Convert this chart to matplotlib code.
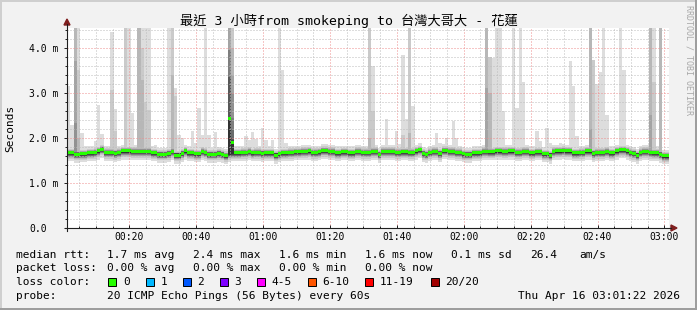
import numpy as np
import matplotlib
matplotlib.use("Agg")
import matplotlib.pyplot as plt
from matplotlib.patches import Polygon, Rectangle
from matplotlib.lines import Line2D
from matplotlib.ticker import FixedLocator, MultipleLocator

# ---------------- data ----------------
title = "最近 3 小時from smokeping to 台灣大哥大 - 花蓮"
start_minute = 1.37          # graph starts 00:01:22, one step = 1 minute

median_ms = [
    1.67, 1.67, 1.64, 1.64, 1.65, 1.65, 1.67, 1.67, 1.68, 1.71,
    1.75, 1.68, 1.68, 1.68, 1.66, 1.68, 1.71, 1.71, 1.71, 1.70,
    1.70, 1.70, 1.70, 1.70, 1.70, 1.67, 1.67, 1.64, 1.64, 1.64,
    1.66, 1.70, 1.62, 1.62, 1.66, 1.71, 1.67, 1.67, 1.65, 1.65,
    1.70, 1.68, 1.64, 1.64, 1.64, 1.66, 1.64, 1.61, 2.42, 1.90,
    1.67, 1.67, 1.68, 1.68, 1.70, 1.67, 1.68, 1.68, 1.66, 1.67,
    1.67, 1.67, 1.62, 1.65, 1.67, 1.67, 1.68, 1.68, 1.69, 1.69,
    1.70, 1.70, 1.71, 1.68, 1.68, 1.69, 1.72, 1.72, 1.70, 1.70,
    1.67, 1.67, 1.69, 1.69, 1.67, 1.67, 1.70, 1.70, 1.68, 1.68,
    1.68, 1.70, 1.70, 1.64, 1.70, 1.70, 1.70, 1.70, 1.68, 1.68,
    1.69, 1.69, 1.68, 1.68, 1.71, 1.74, 1.66, 1.64, 1.68, 1.70,
    1.70, 1.66, 1.72, 1.72, 1.70, 1.70, 1.68, 1.68, 1.65, 1.64,
    1.64, 1.67, 1.67, 1.67, 1.70, 1.70, 1.69, 1.69, 1.71, 1.71,
    1.70, 1.70, 1.71, 1.71, 1.68, 1.68, 1.70, 1.70, 1.67, 1.67,
    1.69, 1.69, 1.65, 1.65, 1.62, 1.70, 1.71, 1.71, 1.72, 1.71,
    1.71, 1.67, 1.67, 1.68, 1.68, 1.71, 1.71, 1.66, 1.68, 1.68,
    1.68, 1.70, 1.67, 1.67, 1.71, 1.74, 1.74, 1.71, 1.68, 1.66,
    1.62, 1.68, 1.70, 1.70, 1.68, 1.67, 1.67, 1.64, 1.60, 1.60,
]

# quiet smoke spread of the 10 ping-pair layers, relative to the typical rtt (ms)
layer_low_offset = [-0.19, -0.14, -0.11, -0.095, -0.085, -0.075, -0.065, -0.055, -0.045, -0.035]
layer_high_offset = [0.14, 0.09, 0.065, 0.055, 0.045, 0.04, 0.04, 0.035, 0.035, 0.03]
# steps where the typical rtt differs from the median (median spike)
typical_override_steps = [48, 49]
typical_override_ms = [1.66, 1.67]

# upper ends of the outer smoke layers where pings were slow (ms)
spike_steps = [0, 1, 2, 3, 4, 5, 8, 9, 10, 13, 14, 17, 18, 19, 21, 22, 23, 24, 26,
               30, 31, 32, 33, 34, 37, 38, 39, 40, 41, 42, 44, 48, 49,
               53, 54, 55, 56, 58, 59, 61, 63, 64, 65,
               90, 91, 95, 98, 99, 100, 101, 102, 103, 110, 111, 113, 115, 116,
               125, 126, 127, 128, 129, 130, 133, 134, 135, 136, 140, 141, 143, 144, 147,
               150, 151, 152, 155, 156, 157, 158, 159, 160, 161, 165, 166, 174, 175, 177]
spike_tops = [
    [3.16], [2.29], [4.5, 4.5, 4.5, 3.70, 2.33], [4.5, 3.51, 2.0], [2.10], [1.81],
    [1.93], [2.73], [2.09], [4.35, 3.07], [2.64, 2.16], [4.5, 4.5], [4.5], [2.55],
    [4.5, 4.5, 4.5], [4.5, 4.0, 3.29], [4.5, 2.8], [4.5, 2.63], [1.85],
    [4.5], [4.5, 4.5, 3.40], [3.10, 2.93], [2.07], [2.0], [2.16], [1.88], [2.66],
    [2.07], [4.5], [2.07], [2.13],
    [4.5, 4.5, 4.5, 4.5, 3.96, 3.96, 3.36, 3.36, 2.44, 2.44],
    [4.5, 4.5, 4.0, 3.4, 3.0, 2.44, 2.2, 2.0, 1.95, 1.92],
    [2.04], [1.96], [2.14], [1.97], [2.21], [1.96], [1.96], [4.5], [3.51], [1.88],
    [4.5, 4.5, 2.0], [3.6, 2.6], [2.42], [2.16], [1.87], [3.84, 2.07], [2.42],
    [4.5, 4.5, 2.1], [2.70], [2.10], [1.88], [1.99], [2.38], [1.99],
    [4.5, 4.5, 4.5, 3.1], [3.8, 3.8, 3.0], [3.77], [4.5], [4.5], [2.6], [4.5],
    [2.67], [4.5], [3.24], [2.16], [1.93], [2.21], [1.88], [1.88],
    [3.70], [3.16], [2.04], [1.85], [4.5, 4.5, 4.5, 2.2], [3.72, 3.72], [3.19],
    [3.47], [4.5], [2.51], [4.5], [3.51], [4.5, 4.5, 4.5, 2.5], [4.5, 3.24],
    [4.5, 4.5, 4.5],
]

x_tick_minutes = [20, 40, 60, 80, 100, 120, 140, 160, 180]
x_tick_labels = ["00:20", "00:40", "01:00", "01:20", "01:40", "02:00", "02:20", "02:40", "03:00"]
y_tick_values = [0, 1, 2, 3, 4]
y_tick_labels = ["0.0", "1.0 m", "2.0 m", "3.0 m", "4.0 m"]

rtt_labels = ["1.7 ms avg", "2.4 ms max", "1.6 ms min", "1.6 ms now", "0.1 ms sd", "26.4", "am/s"]
loss_labels = ["0.00 % avg", "0.00 % max", "0.00 % min", "0.00 % now"]
loss_names = ["0", "1", "2", "3", "4-5", "6-10", "11-19", "20/20"]
loss_colors = ["#26ff00", "#00b8ff", "#0059ff", "#7e00ff", "#ff00ff", "#ff5500", "#ff0000", "#a10000"]
probe_text = "20 ICMP Echo Pings (56 Bytes) every 60s"
stamp_text = "Thu Apr 16 03:01:22 2026"

# ---------------- figure ----------------
W, H = 697, 310
fig = plt.figure(figsize=(W / 100, H / 100), dpi=100)
fig.patch.set_facecolor("#f2f2f2")
MONO = ["DejaVu Sans Mono", "Noto Sans CJK TC"]

def fx(x):
    return x / W

def fy(y):
    return 1 - y / H

L, R, T, B = 67, 669, 28, 228
ax = fig.add_axes([fx(L), fy(B), (R - L) / W, (B - T) / H])
ax.set_facecolor("white")
ymax = 4.44
ax.set_xlim(start_minute, start_minute + len(median_ms))
ax.set_ylim(0, ymax)

med = np.array(median_ms)
n = len(med)
edges = start_minute + np.arange(n + 1)
typical = med.copy()
typical[typical_override_steps] = typical_override_ms

gray_levels = [int(190 / 10 * (10 - k)) + 50 for k in range(1, 11)]
bottoms = [typical + o for o in layer_low_offset]
tops = [typical + o for o in layer_high_offset]
for s, tl in zip(spike_steps, spike_tops):
    for k, v in enumerate(tl):
        tops[k][s] = max(tops[k][s], v)

for k in range(10):
    g = gray_levels[k]
    c = "#%02x%02x%02x" % (g, g, g)
    b = np.append(bottoms[k], bottoms[k][-1])
    t = np.append(tops[k], tops[k][-1])
    ax.fill_between(edges, b, t, step="post", color=c, linewidth=0, zorder=1)

# median band (loss colour 0)
half = 1.5 * ymax / (B - T)
mb = np.append(med, med[-1])
ax.fill_between(edges, mb - half, mb + half, step="post", color=loss_colors[0],
                linewidth=0, zorder=3)

# grid
ax.xaxis.set_major_locator(FixedLocator(x_tick_minutes))
ax.xaxis.set_minor_locator(MultipleLocator(5))
ax.yaxis.set_major_locator(FixedLocator(y_tick_values))
ax.yaxis.set_minor_locator(MultipleLocator(0.2))
ax.set_axisbelow(False)
ax.grid(which="minor", color="#bdbdbd", linestyle=(0, (1, 2)), linewidth=0.72, zorder=2)
ax.grid(which="major", color="#ef8f8f", linestyle=(0, (1, 2)), linewidth=0.72, zorder=2)
ax.set_xticklabels(x_tick_labels)
ax.set_yticklabels(y_tick_labels)
for lab in ax.get_yticklabels():
    lab.set_horizontalalignment("left")
    lab.set_family(MONO)
    lab.set_fontsize(7)
for lab in ax.get_xticklabels():
    lab.set_family(MONO)
    lab.set_fontsize(7)
ax.tick_params(axis="y", which="major", direction="out", length=2.5, width=0.7,
               color="#1f1f1f", pad=(L - 29) * 0.72 - 2.5)
ax.tick_params(axis="y", which="minor", direction="out", length=1.6, width=0.7, color="#1f1f1f")
ax.tick_params(axis="x", which="major", direction="in", length=2.5, width=0.7,
               color="#1f1f1f", pad=3.2)
ax.tick_params(axis="x", which="minor", direction="in", length=1.6, width=0.7, color="#1f1f1f")
for sp in ax.spines.values():
    sp.set_visible(False)

# axes with arrows
fig.add_artist(Line2D([fx(L - 2), fx(671)], [fy(B), fy(B)], color="#1f1f1f", lw=0.8))
fig.add_artist(Line2D([fx(L), fx(L)], [fy(B + 3), fy(24)], color="#1f1f1f", lw=0.8))
fig.add_artist(Polygon([[fx(671), fy(B - 3)], [fx(677), fy(B)], [fx(671), fy(B + 3)]],
                       closed=True, color="#801f1f", transform=fig.transFigure))
fig.add_artist(Polygon([[fx(L - 3), fy(25)], [fx(L), fy(19)], [fx(L + 3), fy(25)]],
                       closed=True, color="#801f1f", transform=fig.transFigure))

# frame shading
fig.add_artist(Rectangle((0, fy(2)), 1, 2 / H, color="#cfcfcf", transform=fig.transFigure, lw=0))
fig.add_artist(Rectangle((0, 0), 2 / W, 1, color="#cfcfcf", transform=fig.transFigure, lw=0))
fig.add_artist(Rectangle((0, 0), 1, 2 / H, color="#9e9e9e", transform=fig.transFigure, lw=0))
fig.add_artist(Rectangle((fx(W - 2), 0), 2 / W, 1, color="#9e9e9e", transform=fig.transFigure, lw=0))

# texts
fig.text(0.5, fy(21), title, ha="center", va="center", fontsize=9.5, family=MONO)
fig.text(fx(10), fy((T + B) / 2), "Seconds", rotation=90, ha="center", va="center",
         fontsize=8, family=MONO)
fig.text(fx(689), fy(60), "RRDTOOL / TOBI OETIKER", rotation=270, ha="center", va="center",
         fontsize=6, family=MONO, color="#a8a8a8")

row_y = [255, 268, 282, 296]
fs = 8
fig.text(fx(16), fy(row_y[0]), "median rtt:", ha="left", va="center", fontsize=fs, family=MONO)
for x, s in zip([107, 193, 279, 365, 451, 530, 579], rtt_labels):
    fig.text(fx(x), fy(row_y[0]), s, ha="left", va="center", fontsize=fs, family=MONO)
fig.text(fx(16), fy(row_y[1]), "packet loss:", ha="left", va="center", fontsize=fs, family=MONO)
for x, s in zip([107, 193, 279, 365], loss_labels):
    fig.text(fx(x), fy(row_y[1]), s, ha="left", va="center", fontsize=fs, family=MONO)
fig.text(fx(16), fy(row_y[2]), "loss color:", ha="left", va="center", fontsize=fs, family=MONO)
box_x = [108, 145.5, 182.5, 219.5, 256.5, 307.5, 365, 430.5]
for bx, name, col in zip(box_x, loss_names, loss_colors):
    fig.add_artist(Rectangle((fx(bx), fy(row_y[2] + 4)), 8 / W, 8 / H, facecolor=col,
                             edgecolor="black", lw=0.7, transform=fig.transFigure))
    fig.text(fx(bx + 15), fy(row_y[2]), name, ha="left", va="center", fontsize=fs, family=MONO)
fig.text(fx(16), fy(row_y[3]), "probe:", ha="left", va="center", fontsize=fs, family=MONO)
fig.text(fx(107), fy(row_y[3]), probe_text, ha="left", va="center", fontsize=fs, family=MONO)
fig.text(fx(680), fy(row_y[3]), stamp_text, ha="right", va="center", fontsize=fs, family=MONO)

fig.savefig("out.png", dpi=100, facecolor=fig.get_facecolor())
